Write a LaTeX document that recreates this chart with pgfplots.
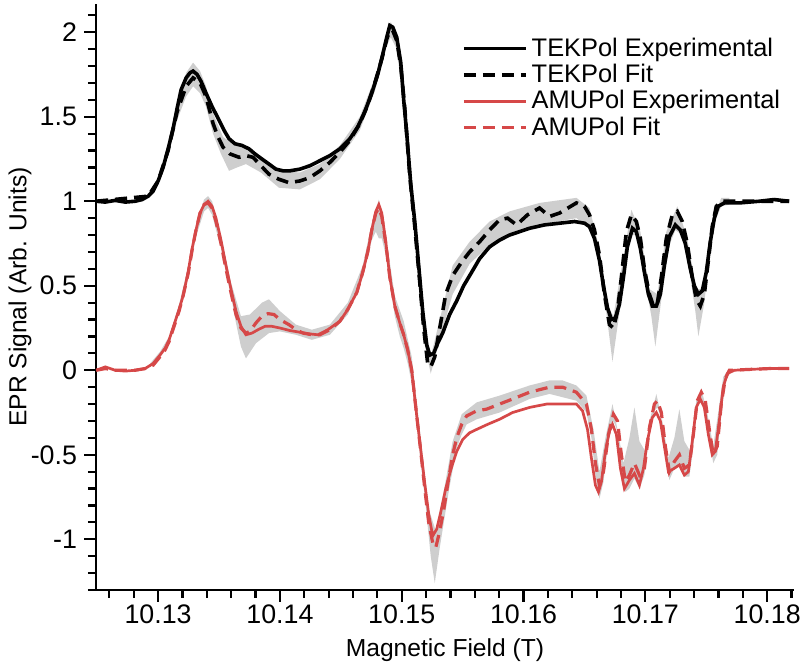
\documentclass[border=0pt]{standalone}
\usepackage{pgfplots}
\pgfplotsset{compat=1.18}
\usepackage{fontspec}
\setmainfont{Liberation Sans}
\definecolor{epred}{RGB}{214,72,72}
\definecolor{band}{RGB}{206,206,206}
\begin{document}
\begin{tikzpicture}
\begin{axis}[
  scale only axis, width=349pt, height=293pt,
  xmin=10.1249, xmax=10.1822, ymin=-1.3, ymax=2.167,
  axis x line*=bottom, axis y line*=left,
  axis line style={line width=1.2pt,-},
  xtick={10.13,10.14,10.15,10.16,10.17,10.18},
  minor xtick={10.126,10.128,10.132,10.134,10.136,10.138,10.142,10.144,10.146,10.148,10.152,10.154,10.156,10.158,10.162,10.164,10.166,10.168,10.172,10.174,10.176,10.178,10.182},
  ytick={-1,-0.5,0,0.5,1,1.5,2},
  minor ytick={-1.3,-1.2,-1.1,-0.9,-0.8,-0.7,-0.6,-0.4,-0.3,-0.2,-0.1,0.1,0.2,0.3,0.4,0.6,0.7,0.8,0.9,1.1,1.2,1.3,1.4,1.6,1.7,1.8,1.9,2.1},
  tick align=outside, major tick length=6pt, minor tick length=4pt,
  every tick/.style={black, line width=1.1pt},
  /pgf/number format/assume math mode=true,
  xticklabel style={yshift=2pt, /pgf/number format/.cd, fixed, precision=2, fixed zerofill},
  tick label style={font=\fontsize{13.4}{15}\selectfont},
  label style={font=\fontsize{12.3}{14}\selectfont},
  xlabel={Magnetic Field (T)}, ylabel={EPR Signal (Arb. Units)},
  ylabel style={at={(axis description cs:-0.109,0.5)}, anchor=center},
  xlabel style={at={(axis description cs:0.5,-0.102)}, anchor=center},
  legend style={at={(0.524,0.95)}, anchor=north west, draw=none, fill=none, inner sep=0pt,
    font=\fontsize{12.7}{14}\selectfont, row sep=-1.5pt,
    /tikz/every even column/.append style={column sep=1pt}},
  legend cell align=left,
  legend image code/.code={\draw[#1] (0pt,0pt) -- (31pt,0pt);},
]
% grey band TEKPol
\addplot[fill=band, draw=none, forget plot] table {
10.12934 1.05
10.13000 1.14
10.13082 1.33
10.13156 1.57
10.13230 1.76
10.13287 1.82
10.13344 1.77
10.13393 1.68
10.13451 1.52
10.13533 1.38
10.13631 1.33
10.13721 1.32
10.13844 1.26
10.13992 1.18
10.14164 1.17
10.14328 1.22
10.14492 1.33
10.14656 1.50
10.14779 1.73
10.14877 1.99
10.14910 2.06
10.14959 1.99
10.15025 1.60
10.15107 0.90
10.15180 0.32
10.15238 0.08
10.15312 0.30
10.15418 0.62
10.15557 0.76
10.15721 0.88
10.15885 0.94
10.16131 0.99
10.16434 1.02
10.16541 0.96
10.16623 0.72
10.16689 0.38
10.16738 0.32
10.16803 0.60
10.16885 0.95
10.16959 0.82
10.17033 0.48
10.17099 0.45
10.17172 0.82
10.17262 0.97
10.17344 0.78
10.17418 0.48
10.17467 0.48
10.17549 0.88
10.17623 1.02
10.17689 1.02
10.17689 0.98
10.17623 0.97
10.17582 0.90
10.17533 0.72
10.17484 0.40
10.17435 0.20
10.17410 0.35
10.17369 0.55
10.17303 0.80
10.17246 0.83
10.17197 0.74
10.17131 0.42
10.17082 0.14
10.17049 0.32
10.16992 0.55
10.16926 0.80
10.16885 0.80
10.16844 0.68
10.16787 0.34
10.16730 0.05
10.16697 0.24
10.16648 0.52
10.16590 0.78
10.16541 0.84
10.16434 0.90
10.16131 0.86
10.15885 0.80
10.15721 0.74
10.15557 0.63
10.15418 0.45
10.15312 0.18
10.15238 -0.02
10.15180 0.18
10.15107 0.80
10.15025 1.50
10.14959 1.90
10.14910 1.97
10.14877 1.92
10.14779 1.65
10.14656 1.42
10.14492 1.25
10.14328 1.13
10.14164 1.07
10.13992 1.08
10.13844 1.17
10.13721 1.22
10.13648 1.20
10.13582 1.18
10.13516 1.28
10.13451 1.40
10.13393 1.56
10.13344 1.64
10.13287 1.68
10.13230 1.62
10.13156 1.48
10.13082 1.27
10.13000 1.10
10.12934 1.03
};
% grey band AMUPol
\addplot[fill=band, draw=none, forget plot] table {
10.12934 0.04
10.13016 0.11
10.13090 0.20
10.13172 0.39
10.13246 0.61
10.13311 0.86
10.13377 1.01
10.13410 1.03
10.13443 1.00
10.13516 0.80
10.13598 0.52
10.13680 0.32
10.13754 0.33
10.13852 0.40
10.13910 0.42
10.14000 0.35
10.14131 0.27
10.14262 0.24
10.14410 0.27
10.14557 0.40
10.14680 0.62
10.14754 0.87
10.14812 1.01
10.14869 0.80
10.14943 0.44
10.15016 0.29
10.15082 0.08
10.15156 -0.40
10.15221 -0.82
10.15279 -0.95
10.15344 -0.72
10.15418 -0.42
10.15492 -0.26
10.15615 -0.19
10.15803 -0.15
10.16049 -0.09
10.16213 -0.06
10.16320 -0.06
10.16434 -0.09
10.16516 -0.15
10.16574 -0.35
10.16623 -0.60
10.16672 -0.40
10.16730 -0.20
10.16779 -0.38
10.16820 -0.55
10.16869 -0.40
10.16910 -0.22
10.16951 -0.42
10.17000 -0.48
10.17041 -0.28
10.17090 -0.14
10.17139 -0.30
10.17189 -0.52
10.17238 -0.40
10.17279 -0.23
10.17320 -0.42
10.17369 -0.48
10.17418 -0.18
10.17459 -0.11
10.17508 -0.25
10.17557 -0.45
10.17598 -0.25
10.17639 -0.04
10.17689 0.01
10.17689 -0.02
10.17656 -0.08
10.17623 -0.26
10.17590 -0.50
10.17557 -0.55
10.17525 -0.40
10.17492 -0.22
10.17459 -0.16
10.17426 -0.22
10.17394 -0.45
10.17361 -0.63
10.17320 -0.63
10.17279 -0.56
10.17238 -0.58
10.17197 -0.65
10.17164 -0.50
10.17131 -0.28
10.17099 -0.22
10.17074 -0.24
10.17033 -0.38
10.16992 -0.62
10.16951 -0.70
10.16910 -0.64
10.16869 -0.70
10.16836 -0.72
10.16803 -0.55
10.16771 -0.36
10.16738 -0.30
10.16697 -0.42
10.16656 -0.66
10.16623 -0.76
10.16590 -0.62
10.16557 -0.40
10.16516 -0.25
10.16434 -0.18
10.16213 -0.14
10.16049 -0.17
10.15803 -0.25
10.15615 -0.29
10.15533 -0.32
10.15492 -0.38
10.15451 -0.46
10.15385 -0.72
10.15312 -1.05
10.15271 -1.26
10.15238 -1.10
10.15189 -0.75
10.15156 -0.55
10.15123 -0.32
10.15082 -0.08
10.15049 0.04
10.15016 0.13
10.14984 0.20
10.14943 0.32
10.14869 0.68
10.14836 0.78
10.14812 0.78
10.14787 0.82
10.14754 0.77
10.14680 0.55
10.14557 0.33
10.14410 0.21
10.14262 0.18
10.14131 0.21
10.14000 0.23
10.13910 0.22
10.13803 0.16
10.13721 0.07
10.13680 0.14
10.13639 0.28
10.13598 0.44
10.13516 0.72
10.13443 0.92
10.13410 0.96
10.13377 0.94
10.13311 0.79
10.13246 0.55
10.13172 0.34
10.13090 0.16
10.13016 0.08
10.12934 0.02
};
% TEKPol experimental
\addplot[black, line width=1.8pt] table {
10.12492 1.00
10.12566 0.995
10.12648 1.005
10.12730 0.995
10.12811 1.00
10.12869 1.01
10.12918 1.03
10.12959 1.06
10.13000 1.12
10.13041 1.20
10.13082 1.31
10.13123 1.43
10.13156 1.55
10.13189 1.66
10.13230 1.73
10.13262 1.76
10.13287 1.77
10.13320 1.75
10.13352 1.71
10.13393 1.64
10.13443 1.56
10.13500 1.48
10.13541 1.42
10.13582 1.37
10.13631 1.34
10.13689 1.33
10.13746 1.31
10.13795 1.28
10.13852 1.25
10.13910 1.22
10.13967 1.19
10.14025 1.18
10.14082 1.18
10.14164 1.19
10.14246 1.21
10.14328 1.24
10.14410 1.27
10.14492 1.31
10.14574 1.37
10.14639 1.44
10.14697 1.53
10.14754 1.64
10.14803 1.75
10.14844 1.87
10.14877 1.97
10.14902 2.04
10.14926 2.03
10.14959 1.97
10.14992 1.82
10.15016 1.60
10.15041 1.40
10.15074 1.10
10.15107 0.88
10.15139 0.62
10.15172 0.35
10.15205 0.15
10.15230 0.09
10.15262 0.10
10.15295 0.16
10.15336 0.22
10.15393 0.33
10.15451 0.41
10.15508 0.50
10.15574 0.58
10.15639 0.66
10.15721 0.73
10.15803 0.77
10.15885 0.80
10.15967 0.82
10.16049 0.84
10.16172 0.86
10.16295 0.87
10.16418 0.88
10.16500 0.87
10.16541 0.85
10.16582 0.78
10.16623 0.65
10.16656 0.50
10.16689 0.37
10.16721 0.30
10.16754 0.31
10.16787 0.39
10.16820 0.55
10.16852 0.73
10.16894 0.84
10.16926 0.82
10.16959 0.72
10.16992 0.58
10.17025 0.45
10.17057 0.38
10.17090 0.38
10.17123 0.45
10.17156 0.62
10.17197 0.79
10.17246 0.86
10.17287 0.83
10.17328 0.75
10.17369 0.60
10.17402 0.50
10.17435 0.45
10.17467 0.47
10.17500 0.58
10.17533 0.76
10.17566 0.90
10.17598 0.97
10.17648 0.99
10.17770 0.99
10.17935 1.00
10.18057 1.01
10.18180 1.00
};
\addlegendentry{TEKPol Experimental}
% TEKPol fit
\addplot[black, line width=1.8pt, dash pattern=on 6pt off 3.5pt] table {
10.12492 1.00
10.12918 1.03
10.13000 1.12
10.13082 1.30
10.13156 1.53
10.13230 1.68
10.13287 1.73
10.13344 1.70
10.13393 1.62
10.13451 1.46
10.13492 1.38
10.13533 1.32
10.13590 1.28
10.13664 1.26
10.13721 1.27
10.13779 1.26
10.13844 1.21
10.13910 1.16
10.13992 1.13
10.14074 1.11
10.14164 1.12
10.14246 1.14
10.14328 1.18
10.14410 1.23
10.14492 1.29
10.14574 1.36
10.14656 1.46
10.14721 1.57
10.14779 1.70
10.14836 1.84
10.14877 1.96
10.14902 2.01
10.14926 2.01
10.14959 1.95
10.14992 1.80
10.15025 1.55
10.15066 1.15
10.15107 0.85
10.15148 0.52
10.15180 0.25
10.15213 0.04
10.15238 0.02
10.15271 0.08
10.15312 0.25
10.15361 0.45
10.15418 0.56
10.15492 0.64
10.15557 0.70
10.15639 0.76
10.15721 0.83
10.15803 0.89
10.15869 0.90
10.15943 0.86
10.16033 0.92
10.16131 0.96
10.16213 0.91
10.16295 0.93
10.16434 0.99
10.16500 0.97
10.16541 0.92
10.16582 0.83
10.16623 0.68
10.16664 0.45
10.16705 0.27
10.16738 0.25
10.16771 0.35
10.16803 0.55
10.16844 0.82
10.16885 0.92
10.16926 0.88
10.16959 0.78
10.16992 0.60
10.17033 0.45
10.17066 0.38
10.17099 0.40
10.17131 0.55
10.17172 0.78
10.17221 0.92
10.17262 0.94
10.17303 0.88
10.17344 0.75
10.17385 0.55
10.17418 0.42
10.17451 0.38
10.17484 0.45
10.17517 0.65
10.17549 0.85
10.17582 0.97
10.17623 1.00
10.17770 1.00
10.18180 1.00
};
\addlegendentry{TEKPol Fit}
% AMUPol experimental
\addplot[epred, line width=1.35pt] table {
10.12492 0.00
10.12566 0.02
10.12648 0.00
10.12730 -0.005
10.12811 0.00
10.12893 0.01
10.12959 0.04
10.13016 0.09
10.13057 0.13
10.13090 0.18
10.13131 0.27
10.13172 0.36
10.13205 0.44
10.13246 0.58
10.13279 0.72
10.13311 0.83
10.13344 0.93
10.13377 0.98
10.13410 1.00
10.13443 0.97
10.13475 0.90
10.13516 0.77
10.13557 0.62
10.13598 0.48
10.13639 0.35
10.13680 0.26
10.13721 0.21
10.13771 0.22
10.13820 0.24
10.13877 0.26
10.13934 0.26
10.14000 0.25
10.14082 0.235
10.14164 0.225
10.14246 0.215
10.14312 0.21
10.14393 0.24
10.14492 0.29
10.14557 0.36
10.14631 0.46
10.14680 0.58
10.14721 0.70
10.14754 0.83
10.14787 0.94
10.14812 0.98
10.14836 0.93
10.14869 0.76
10.14902 0.55
10.14943 0.38
10.14984 0.28
10.15016 0.21
10.15049 0.12
10.15082 0.00
10.15123 -0.27
10.15156 -0.47
10.15189 -0.67
10.15221 -0.85
10.15254 -0.98
10.15287 -0.94
10.15320 -0.84
10.15361 -0.70
10.15402 -0.59
10.15451 -0.48
10.15500 -0.41
10.15557 -0.37
10.15615 -0.35
10.15705 -0.32
10.15803 -0.29
10.15910 -0.25
10.16049 -0.22
10.16189 -0.20
10.16336 -0.20
10.16434 -0.20
10.16484 -0.24
10.16525 -0.35
10.16557 -0.52
10.16590 -0.68
10.16615 -0.72
10.16639 -0.66
10.16672 -0.48
10.16705 -0.36
10.16730 -0.32
10.16762 -0.38
10.16795 -0.58
10.16828 -0.70
10.16869 -0.65
10.16910 -0.61
10.16951 -0.68
10.16984 -0.58
10.17016 -0.42
10.17057 -0.28
10.17090 -0.25
10.17123 -0.30
10.17156 -0.45
10.17189 -0.60
10.17238 -0.58
10.17279 -0.56
10.17320 -0.62
10.17353 -0.60
10.17385 -0.42
10.17418 -0.22
10.17451 -0.17
10.17484 -0.22
10.17517 -0.38
10.17549 -0.50
10.17574 -0.48
10.17607 -0.30
10.17639 -0.10
10.17672 -0.02
10.17730 0.00
10.17853 0.005
10.18016 0.01
10.18180 0.01
};
\addlegendentry{AMUPol Experimental}
% AMUPol fit
\addplot[epred, line width=1.6pt, dash pattern=on 6pt off 3.5pt] table {
10.12492 0.00
10.12566 0.01
10.12648 0.00
10.12730 0.00
10.12811 0.00
10.12893 0.01
10.12959 0.03
10.13016 0.08
10.13057 0.12
10.13090 0.17
10.13131 0.26
10.13172 0.35
10.13205 0.44
10.13246 0.57
10.13279 0.71
10.13311 0.83
10.13344 0.93
10.13377 0.98
10.13410 0.99
10.13443 0.96
10.13475 0.88
10.13516 0.75
10.13557 0.60
10.13598 0.46
10.13639 0.33
10.13680 0.25
10.13721 0.22
10.13754 0.23
10.13803 0.28
10.13852 0.32
10.13902 0.335
10.13951 0.33
10.14000 0.30
10.14074 0.27
10.14131 0.24
10.14189 0.22
10.14262 0.21
10.14328 0.21
10.14410 0.24
10.14492 0.29
10.14557 0.36
10.14631 0.46
10.14680 0.58
10.14721 0.70
10.14754 0.83
10.14787 0.93
10.14812 0.96
10.14836 0.91
10.14869 0.75
10.14902 0.55
10.14943 0.38
10.14984 0.28
10.15016 0.21
10.15049 0.12
10.15082 0.00
10.15123 -0.27
10.15156 -0.48
10.15189 -0.70
10.15221 -0.90
10.15254 -1.02
10.15279 -1.05
10.15312 -0.95
10.15344 -0.83
10.15385 -0.64
10.15418 -0.50
10.15451 -0.40
10.15492 -0.32
10.15533 -0.27
10.15615 -0.24
10.15697 -0.23
10.15803 -0.20
10.15910 -0.17
10.16049 -0.13
10.16213 -0.10
10.16320 -0.10
10.16434 -0.13
10.16516 -0.20
10.16557 -0.35
10.16590 -0.55
10.16623 -0.68
10.16656 -0.60
10.16697 -0.38
10.16738 -0.26
10.16771 -0.30
10.16803 -0.50
10.16836 -0.66
10.16869 -0.62
10.16910 -0.55
10.16951 -0.62
10.16992 -0.58
10.17033 -0.34
10.17074 -0.20
10.17099 -0.18
10.17131 -0.25
10.17164 -0.45
10.17197 -0.60
10.17238 -0.54
10.17279 -0.50
10.17320 -0.58
10.17361 -0.56
10.17394 -0.38
10.17426 -0.18
10.17459 -0.13
10.17492 -0.18
10.17525 -0.35
10.17557 -0.50
10.17590 -0.45
10.17623 -0.20
10.17656 -0.05
10.17689 0.00
10.17853 0.005
10.18016 0.01
10.18180 0.01
};
\addlegendentry{AMUPol Fit}
\end{axis}
\pgfresetboundingbox
\path[use as bounding box] (-48pt,-39.5pt) rectangle (352pt,295pt);
\end{tikzpicture}
\end{document}
